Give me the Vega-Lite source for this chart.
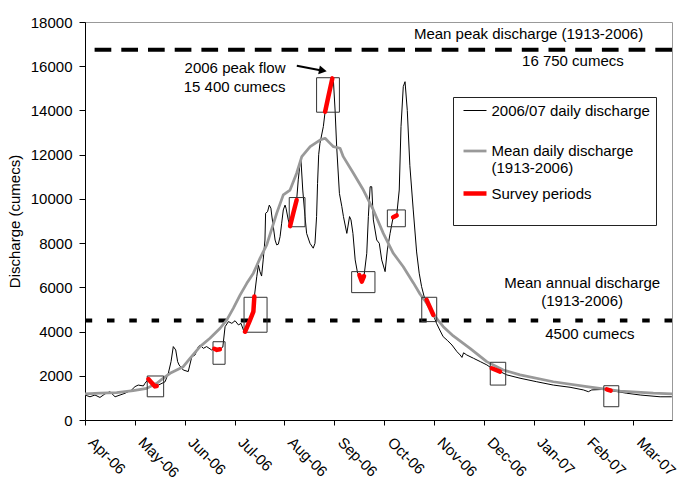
{
  "$schema": "https://vega.github.io/schema/vega-lite/v6.json",
  "width": 587,
  "height": 398,
  "autosize": {"type": "none"},
  "padding": {"left": 85, "top": 22, "right": 7, "bottom": 60},
  "background": "white",
  "config": {
    "font": "Liberation Sans",
    "view": {"stroke": "#999999", "strokeWidth": 1},
    "axis": {"labelFont": "Liberation Sans", "labelFontSize": 15, "labelColor": "#000", "titleFont": "Liberation Sans", "titleFontSize": 15, "titleFontWeight": "normal", "titleColor": "#000", "domainColor": "#000", "tickColor": "#000", "grid": false},
    "legend": {"padding": 6, "strokeColor": "#222", "fillColor": "white", "labelFont": "Liberation Sans", "labelFontSize": 15, "labelColor": "#000", "symbolSize": 33, "labelOffset": 9, "symbolOffset": 8.5, "rowPadding": 7.5, "labelLimit": 400}
  },
  "datasets": {
    "flow": [
      {"series":"daily","period":0,"day":0,"q":1130},{"series":"daily","period":0,"day":3.1,"q":1050},{"series":"daily","period":0,"day":6.2,"q":1130},{"series":"daily","period":0,"day":9.3,"q":1020},{"series":"daily","period":0,"day":12.4,"q":1180},{"series":"daily","period":0,"day":15.5,"q":1280},{"series":"daily","period":0,"day":18.7,"q":1050},{"series":"daily","period":0,"day":21.8,"q":1130},{"series":"daily","period":0,"day":24.9,"q":1210},{"series":"daily","period":0,"day":29,"q":1360},{"series":"daily","period":0,"day":31.1,"q":1510},{"series":"daily","period":0,"day":33.1,"q":1580},{"series":"daily","period":0,"day":36.3,"q":1540},{"series":"daily","period":0,"day":37.3,"q":1660},{"series":"daily","period":0,"day":39.4,"q":1850},{"series":"daily","period":0,"day":41,"q":1720},{"series":"daily","period":0,"day":42.5,"q":1600},{"series":"daily","period":0,"day":43.5,"q":1520},{"series":"daily","period":0,"day":44.6,"q":1540},{"series":"daily","period":0,"day":49.8,"q":1730},{"series":"daily","period":0,"day":51.8,"q":2110},{"series":"daily","period":0,"day":53.5,"q":2640},{"series":"daily","period":0,"day":54.9,"q":3320},{"series":"daily","period":0,"day":56.4,"q":3170},{"series":"daily","period":0,"day":57.6,"q":2640},{"series":"daily","period":0,"day":58.5,"q":2490},{"series":"daily","period":0,"day":61.1,"q":2260},{"series":"daily","period":0,"day":64.2,"q":2190},{"series":"daily","period":0,"day":66.4,"q":2860},{"series":"daily","period":0,"day":68.4,"q":2940},{"series":"daily","period":0,"day":70.5,"q":3320},{"series":"daily","period":0,"day":71.5,"q":3390},{"series":"daily","period":0,"day":73.6,"q":3240},{"series":"daily","period":0,"day":75.6,"q":3320},{"series":"daily","period":0,"day":78.7,"q":3170},{"series":"daily","period":0,"day":80.4,"q":3220},{"series":"daily","period":0,"day":82,"q":3170},{"series":"daily","period":0,"day":83.9,"q":3200},{"series":"daily","period":0,"day":85.7,"q":3300},{"series":"daily","period":0,"day":87.1,"q":4220},{"series":"daily","period":0,"day":89.2,"q":4450},{"series":"daily","period":0,"day":91.3,"q":4370},{"series":"daily","period":0,"day":93.3,"q":4490},{"series":"daily","period":0,"day":95.4,"q":4300},{"series":"daily","period":0,"day":97,"q":4370},{"series":"daily","period":0,"day":98.5,"q":4070},{"series":"daily","period":0,"day":99.5,"q":3990},{"series":"daily","period":0,"day":102.6,"q":4520},{"series":"daily","period":0,"day":104.7,"q":4900},{"series":"daily","period":0,"day":105.3,"q":5580},{"series":"daily","period":0,"day":106.8,"q":6480},{"series":"daily","period":0,"day":107.8,"q":7010},{"series":"daily","period":0,"day":108.8,"q":6710},{"series":"daily","period":0,"day":109.8,"q":6510},{"series":"daily","period":0,"day":110.8,"q":7240},{"series":"daily","period":0,"day":111.9,"q":8140},{"series":"daily","period":0,"day":112.3,"q":9350},{"series":"daily","period":0,"day":113.5,"q":9420},{"series":"daily","period":0,"day":114.6,"q":9720},{"series":"daily","period":0,"day":115.6,"q":9580},{"series":"daily","period":0,"day":116.1,"q":9270},{"series":"daily","period":0,"day":117.1,"q":8740},{"series":"daily","period":0,"day":118.2,"q":8140},{"series":"daily","period":0,"day":119.2,"q":7920},{"series":"daily","period":0,"day":120.2,"q":7950},{"series":"daily","period":0,"day":121.3,"q":8290},{"series":"daily","period":0,"day":122.3,"q":8900},{"series":"daily","period":0,"day":123.3,"q":9500},{"series":"daily","period":0,"day":124.4,"q":9720},{"series":"daily","period":0,"day":125,"q":9580},{"series":"daily","period":0,"day":126.4,"q":9050},{"series":"daily","period":0,"day":127.5,"q":8770},{"series":"daily","period":0,"day":129.5,"q":9350},{"series":"daily","period":0,"day":131.6,"q":9950},{"series":"daily","period":0,"day":132.6,"q":10860},{"series":"daily","period":0,"day":133.7,"q":11610},{"series":"daily","period":0,"day":134.3,"q":11750},{"series":"daily","period":0,"day":135.4,"q":10400},{"series":"daily","period":0,"day":136.8,"q":9200},{"series":"daily","period":0,"day":137.8,"q":8440},{"series":"daily","period":0,"day":139.9,"q":7990},{"series":"daily","period":0,"day":141.9,"q":7770},{"series":"daily","period":0,"day":143,"q":7990},{"series":"daily","period":0,"day":144,"q":9200},{"series":"daily","period":0,"day":144.6,"q":10700},{"series":"daily","period":0,"day":145.3,"q":12000},{"series":"daily","period":0,"day":146.1,"q":12510},{"series":"daily","period":0,"day":148.2,"q":13270},{"series":"daily","period":0,"day":149.3,"q":13940},{"series":"daily","period":0,"day":151.3,"q":14620},{"series":"daily","period":0,"day":153.8,"q":15450},{"series":"daily","period":0,"day":154.5,"q":15300},{"series":"daily","period":0,"day":155.5,"q":14020},{"series":"daily","period":0,"day":156.5,"q":12360},{"series":"daily","period":0,"day":158.2,"q":10250},{"series":"daily","period":0,"day":159.7,"q":9650},{"series":"daily","period":0,"day":160.7,"q":9200},{"series":"daily","period":0,"day":162.8,"q":8440},{"series":"daily","period":0,"day":164.5,"q":9200},{"series":"daily","period":0,"day":165.4,"q":9050},{"series":"daily","period":0,"day":166.6,"q":8440},{"series":"daily","period":0,"day":168,"q":7240},{"series":"daily","period":0,"day":169.5,"q":6640},{"series":"daily","period":0,"day":170.6,"q":6560},{"series":"daily","period":0,"day":172.1,"q":6260},{"series":"daily","period":0,"day":173.5,"q":6510},{"series":"daily","period":0,"day":175.2,"q":7540},{"series":"daily","period":0,"day":176.2,"q":9200},{"series":"daily","period":0,"day":177.3,"q":10550},{"series":"daily","period":0,"day":178.3,"q":10550},{"series":"daily","period":0,"day":179.3,"q":9050},{"series":"daily","period":0,"day":181.4,"q":8140},{"series":"daily","period":0,"day":183,"q":7990},{"series":"daily","period":0,"day":184.5,"q":7240},{"series":"daily","period":0,"day":186.6,"q":6710},{"series":"daily","period":0,"day":188,"q":7690},{"series":"daily","period":0,"day":189.7,"q":8440},{"series":"daily","period":0,"day":191.6,"q":9170},{"series":"daily","period":0,"day":193.8,"q":9250},{"series":"daily","period":0,"day":195.4,"q":10400},{"series":"daily","period":0,"day":196.5,"q":13270},{"series":"daily","period":0,"day":197.9,"q":15080},{"series":"daily","period":0,"day":199,"q":15300},{"series":"daily","period":0,"day":200.4,"q":14000},{"series":"daily","period":0,"day":202,"q":11500},{"series":"daily","period":0,"day":204.1,"q":9500},{"series":"daily","period":0,"day":206.2,"q":7600},{"series":"daily","period":0,"day":207.8,"q":6640},{"series":"daily","period":0,"day":209.3,"q":6030},{"series":"daily","period":0,"day":211,"q":5550},{"series":"daily","period":0,"day":212.4,"q":5430},{"series":"daily","period":0,"day":216.6,"q":4750},{"series":"daily","period":0,"day":218.6,"q":4370},{"series":"daily","period":0,"day":220.6,"q":4070},{"series":"daily","period":0,"day":222.7,"q":3770},{"series":"daily","period":0,"day":225.3,"q":3600},{"series":"daily","period":0,"day":228.2,"q":3390},{"series":"daily","period":0,"day":231.3,"q":3090},{"series":"daily","period":0,"day":233.3,"q":2940},{"series":"daily","period":0,"day":234.4,"q":2830},{"series":"daily","period":0,"day":235.4,"q":3040},{"series":"daily","period":0,"day":237.4,"q":2940},{"series":"daily","period":0,"day":241.6,"q":2790},{"series":"daily","period":0,"day":245.8,"q":2640},{"series":"daily","period":0,"day":249.9,"q":2490},{"series":"daily","period":0,"day":252.9,"q":2340},{"series":"daily","period":0,"day":258.1,"q":2190},{"series":"daily","period":0,"day":262.3,"q":2040},{"series":"daily","period":0,"day":270.5,"q":1890},{"series":"daily","period":0,"day":280.9,"q":1730},{"series":"daily","period":0,"day":291.2,"q":1580},{"series":"daily","period":0,"day":301.6,"q":1480},{"series":"daily","period":0,"day":309.9,"q":1360},{"series":"daily","period":0,"day":313,"q":1280},{"series":"daily","period":0,"day":315.1,"q":1360},{"series":"daily","period":0,"day":324.4,"q":1390},{"series":"daily","period":0,"day":326.9,"q":1330},{"series":"daily","period":0,"day":336.9,"q":1210},{"series":"daily","period":0,"day":345.2,"q":1130},{"series":"daily","period":0,"day":357.6,"q":1050},{"series":"daily","period":0,"day":364.9,"q":1050},
      {"series":"mean","period":0,"day":0,"q":1180},{"series":"mean","period":0,"day":9.3,"q":1210},{"series":"mean","period":0,"day":19.7,"q":1240},{"series":"mean","period":0,"day":30,"q":1330},{"series":"mean","period":0,"day":38.4,"q":1430},{"series":"mean","period":0,"day":44.6,"q":1660},{"series":"mean","period":0,"day":48.7,"q":1890},{"series":"mean","period":0,"day":52.9,"q":2110},{"series":"mean","period":0,"day":57,"q":2260},{"series":"mean","period":0,"day":61.1,"q":2410},{"series":"mean","period":0,"day":65.3,"q":2790},{"series":"mean","period":0,"day":71.5,"q":3320},{"series":"mean","period":0,"day":77.7,"q":3700},{"series":"mean","period":0,"day":84,"q":4150},{"series":"mean","period":0,"day":88.1,"q":4520},{"series":"mean","period":0,"day":92.2,"q":5050},{"series":"mean","period":0,"day":96.4,"q":5650},{"series":"mean","period":0,"day":100.6,"q":6180},{"series":"mean","period":0,"day":104.7,"q":6640},{"series":"mean","period":0,"day":108.8,"q":7310},{"series":"mean","period":0,"day":113,"q":7920},{"series":"mean","period":0,"day":119.2,"q":9350},{"series":"mean","period":0,"day":123.3,"q":10180},{"series":"mean","period":0,"day":127.5,"q":10400},{"series":"mean","period":0,"day":131.6,"q":11160},{"series":"mean","period":0,"day":134.8,"q":11910},{"series":"mean","period":0,"day":140,"q":12360},{"series":"mean","period":0,"day":146.1,"q":12660},{"series":"mean","period":0,"day":149.3,"q":12740},{"series":"mean","period":0,"day":152.4,"q":12510},{"series":"mean","period":0,"day":154.5,"q":12360},{"series":"mean","period":0,"day":158.6,"q":12290},{"series":"mean","period":0,"day":160.6,"q":11910},{"series":"mean","period":0,"day":166.9,"q":11160},{"series":"mean","period":0,"day":173.1,"q":10400},{"series":"mean","period":0,"day":179.3,"q":9500},{"series":"mean","period":0,"day":185.5,"q":8440},{"series":"mean","period":0,"day":191.7,"q":7540},{"series":"mean","period":0,"day":197.9,"q":6930},{"series":"mean","period":0,"day":204.2,"q":6200},{"series":"mean","period":0,"day":208.3,"q":5700},{"series":"mean","period":0,"day":212.5,"q":5280},{"series":"mean","period":0,"day":217.7,"q":4670},{"series":"mean","period":0,"day":222.8,"q":4220},{"series":"mean","period":0,"day":229,"q":3800},{"series":"mean","period":0,"day":239.4,"q":3240},{"series":"mean","period":0,"day":249.8,"q":2640},{"series":"mean","period":0,"day":260.1,"q":2260},{"series":"mean","period":0,"day":270.5,"q":2040},{"series":"mean","period":0,"day":291.2,"q":1730},{"series":"mean","period":0,"day":312,"q":1510},{"series":"mean","period":0,"day":332.7,"q":1310},{"series":"mean","period":0,"day":353.4,"q":1210},{"series":"mean","period":0,"day":365,"q":1180},
      {"series":"survey","period":1,"day":39.4,"q":1850},{"series":"survey","period":1,"day":41,"q":1720},{"series":"survey","period":1,"day":42.5,"q":1600},{"series":"survey","period":1,"day":43.5,"q":1520},{"series":"survey","period":1,"day":44.6,"q":1540},
      {"series":"survey","period":2,"day":80.4,"q":3220},{"series":"survey","period":2,"day":82,"q":3170},{"series":"survey","period":2,"day":83.9,"q":3200},
      {"series":"survey","period":3,"day":99.5,"q":3990},{"series":"survey","period":3,"day":102.6,"q":4520},{"series":"survey","period":3,"day":104.7,"q":4900},{"series":"survey","period":3,"day":105.3,"q":5580},
      {"series":"survey","period":4,"day":127.5,"q":8770},{"series":"survey","period":4,"day":129.5,"q":9350},{"series":"survey","period":4,"day":131.6,"q":9950},
      {"series":"survey","period":5,"day":149.3,"q":13940},{"series":"survey","period":5,"day":151.3,"q":14620},{"series":"survey","period":5,"day":153.8,"q":15450},
      {"series":"survey","period":6,"day":170.6,"q":6560},{"series":"survey","period":6,"day":172.1,"q":6260},{"series":"survey","period":6,"day":173.5,"q":6510},
      {"series":"survey","period":7,"day":191.6,"q":9170},{"series":"survey","period":7,"day":193.8,"q":9250},
      {"series":"survey","period":8,"day":212.4,"q":5430},{"series":"survey","period":8,"day":216.6,"q":4750},
      {"series":"survey","period":9,"day":252.9,"q":2340},{"series":"survey","period":9,"day":258.1,"q":2190},
      {"series":"survey","period":10,"day":324.4,"q":1390},{"series":"survey","period":10,"day":326.9,"q":1330}
    ],
    "levels": [
      {"level":"peak","q":16750},
      {"level":"annual","q":4500}
    ],
    "boxes": [
      {"d1":38.7,"d2":48.9,"q1":1050,"q2":1990},
      {"d1":79.6,"d2":87.1,"q1":2520,"q2":3540},
      {"d1":98.9,"d2":113.2,"q1":3970,"q2":5550},
      {"d1":127,"d2":136.8,"q1":8740,"q2":10060},
      {"d1":144,"d2":158.2,"q1":13920,"q2":15480},
      {"d1":165.8,"d2":180.3,"q1":5760,"q2":6710},
      {"d1":188,"d2":199.2,"q1":8740,"q2":9500},
      {"d1":209.4,"d2":218.7,"q1":4450,"q2":5550},
      {"d1":252,"d2":261.6,"q1":1580,"q2":2610},
      {"d1":322.6,"d2":331.9,"q1":600,"q2":1550}
    ],
    "notes": [
      {"day":275.8,"q":17224,"text":"Mean peak discharge (1913-2006)"},
      {"day":303.4,"q":16016,"text":"16 750 cumecs"},
      {"day":93.3,"q":15682,"text":"2006 peak flow"},
      {"day":93.0,"q":14822,"text":"15 400 cumecs"},
      {"day":309.1,"q":5957,"text":"Mean annual discharge"},
      {"day":309.1,"q":5170,"text":"(1913-2006)"},
      {"day":313.9,"q":3664,"text":"4500 cumecs"}
    ],
    "arrow": [{"d1":131.7,"q1":16020,"d2":147.9,"q2":15800}]
  },
  "layer": [
    {
      "data": {"name": "levels"},
      "transform": [{"filter": "datum.level == 'peak'"}],
      "mark": {"type": "rule", "color": "black", "strokeWidth": 4, "strokeDash": [16.7, 10]},
      "encoding": {"y": {"field": "q", "type": "quantitative", "scale": {"domain": [0, 18000], "nice": false}}}
    },
    {
      "data": {"name": "levels"},
      "transform": [{"filter": "datum.level == 'annual'"}],
      "mark": {"type": "rule", "color": "black", "strokeWidth": 4, "strokeDash": [7.5, 14.8]},
      "encoding": {"y": {"field": "q", "type": "quantitative"}}
    },
    {
      "data": {"name": "flow"},
      "transform": [{"filter": "datum.series == 'daily'"}],
      "mark": {"type": "line", "strokeJoin": "round", "clip": true},
      "encoding": {
        "x": {"field": "day", "type": "quantitative", "scale": {"domain": [0, 365], "nice": false, "zero": false},
              "axis": {"title": null, "values": [0, 31, 62, 93, 124, 155, 186, 217, 248, 279, 310, 341], "labelExpr": "['Apr-06','May-06','Jun-06','Jul-06','Aug-06','Sep-06','Oct-06','Nov-06','Dec-06','Jan-07','Feb-07','Mar-07'][round(datum.value/31)]", "labelAngle": 45, "labelAlign": "left", "labelBaseline": "bottom", "labelPadding": 20, "tickSize": 5, "labelOverlap": false, "labelBound": false, "labelFlush": false}},
        "y": {"field": "q", "type": "quantitative",
              "axis": {"title": "Discharge (cumecs)", "values": [0, 2000, 4000, 6000, 8000, 10000, 12000, 14000, 16000, 18000], "format": "d", "tickSize": 6, "labelPadding": 7, "titlePadding": 8}},
        "color": {"field": "series", "type": "nominal", "scale": {"domain": ["daily", "mean", "survey"], "range": ["#000000", "#999999", "#ff0000"]},
                  "legend": {"title": null, "orient": "none", "legendX": 368, "legendY": 75, "symbolType": "M-4,0L4,0", "labelExpr": "datum.label == 'daily' ? ['2006/07 daily discharge  ', ' '] : datum.label == 'mean' ? ['Mean daily discharge', '(1913-2006)'] : ['Survey periods', ' ']"}},
        "strokeWidth": {"field": "series", "type": "nominal", "scale": {"domain": ["daily", "mean", "survey"], "range": [1, 4.5, 4]},
                  "legend": {"title": null, "orient": "none", "legendX": 368, "legendY": 75, "symbolType": "M-4,0L4,0", "labelExpr": "datum.label == 'daily' ? ['2006/07 daily discharge  ', ' '] : datum.label == 'mean' ? ['Mean daily discharge', '(1913-2006)'] : ['Survey periods', ' ']"}}
      }
    },
    {
      "data": {"name": "flow"},
      "transform": [{"filter": "datum.series == 'mean'"}],
      "mark": {"type": "line", "strokeJoin": "round", "strokeCap": "butt", "clip": true},
      "encoding": {
        "x": {"field": "day", "type": "quantitative"},
        "y": {"field": "q", "type": "quantitative"},
        "color": {"field": "series", "type": "nominal"},
        "strokeWidth": {"field": "series", "type": "nominal"}
      }
    },
    {
      "data": {"name": "boxes"},
      "mark": {"type": "rect", "filled": false, "stroke": "#333333", "strokeWidth": 1},
      "encoding": {
        "x": {"field": "d1", "type": "quantitative"},
        "x2": {"field": "d2"},
        "y": {"field": "q1", "type": "quantitative"},
        "y2": {"field": "q2"}
      }
    },
    {
      "data": {"name": "flow"},
      "transform": [{"filter": "datum.series == 'survey'"}],
      "mark": {"type": "line", "strokeJoin": "round", "strokeCap": "round"},
      "encoding": {
        "x": {"field": "day", "type": "quantitative"},
        "y": {"field": "q", "type": "quantitative"},
        "detail": {"field": "period", "type": "nominal"},
        "color": {"field": "series", "type": "nominal"},
        "strokeWidth": {"field": "series", "type": "nominal"}
      }
    },
    {
      "data": {"name": "arrow"},
      "mark": {"type": "rule", "color": "black", "strokeWidth": 2},
      "encoding": {
        "x": {"field": "d1", "type": "quantitative"},
        "y": {"field": "q1", "type": "quantitative"},
        "x2": {"field": "d2"},
        "y2": {"field": "q2"}
      }
    },
    {
      "data": {"name": "arrow"},
      "mark": {"type": "point", "shape": "triangle-right", "filled": true, "color": "black", "size": 80, "angle": 10.7, "opacity": 1},
      "encoding": {
        "x": {"field": "d2", "type": "quantitative"},
        "y": {"field": "q2", "type": "quantitative"}
      }
    },
    {
      "data": {"name": "notes"},
      "mark": {"type": "text", "align": "center", "baseline": "alphabetic", "font": "Liberation Sans", "fontSize": 15, "color": "#000"},
      "encoding": {
        "x": {"field": "day", "type": "quantitative"},
        "y": {"field": "q", "type": "quantitative"},
        "text": {"field": "text"}
      }
    }
  ]
}
